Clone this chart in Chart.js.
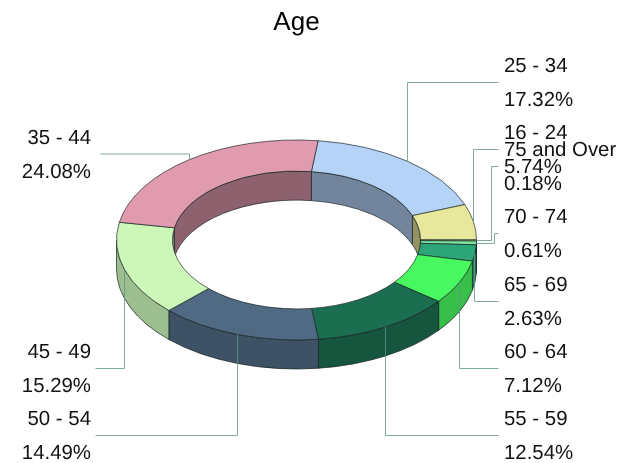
<!DOCTYPE html>
<html>
<head>
<meta charset="utf-8">
<style>html,body{margin:0;padding:0;background:#fff}#wrap{width:620px;height:463px}canvas{display:block}</style>
<script src="https://cdn.jsdelivr.net/npm/chart.js@4"></script>
</head>
<body>
<div id="wrap"><canvas id="c" width="620" height="463"></canvas></div>
<script>
const title = 'Age';
const categories = ['25 - 34','16 - 24','75 and Over','70 - 74','65 - 69','60 - 64','55 - 59','50 - 54','45 - 49','35 - 44'];
const percents = [17.32,5.74,0.18,0.61,2.63,7.12,12.54,14.49,15.29,24.08];
const sliceColors = ['#B5D3F7','#E8E89C','#B4F0A0','#7FE0A0','#2CA678','#48F860','#1C6E50','#4F6A82','#CCF7B8','#E09CAE'];

// Layout of the pseudo-3D ring and its callouts (not data)
const rotationDeg = 6.9, outerR = 180, innerR = 124;
const centerY = 240, squash = 100 / 180, depth = 29;
const outerShade = 0.77, innerShade = 0.63;
const labelFont = '20.4px "Liberation Sans", Arial, sans-serif';
const lineColor = 'rgba(96,150,132,0.8)';
const callouts = [
  {side:'r', y:82.5, textY:82},
  {side:'r', y:149.5, textY:149},
  {side:'r', y:166.5, textY:166, elbowX:491},
  {side:'r', y:233.5, textY:233, elbowX:494},
  {side:'r', y:301.5, textY:301},
  {side:'r', y:368.5, textY:368},
  {side:'r', y:435.5, textY:435},
  {side:'l', y:435.5, textY:435},
  {side:'l', y:368.5, textY:368},
  {side:'l', y:154, textY:154, endX:100}
];
const rightLineEnd = 498, rightTextX = 504, leftLineEnd = 95, leftTextX = 91, lineGap = 17, textShift = 1;

function shade(hex, f){
  const n = parseInt(hex.slice(1),16);
  const c = [n>>16&255, n>>8&255, n&255].map(v=>Math.round(v*f));
  return `rgb(${c[0]},${c[1]},${c[2]})`;
}
function arcs(chart){
  return chart.getDatasetMeta(0).data.map(a=>a.getProps(['x','y','startAngle','endAngle','innerRadius','outerRadius'],true));
}
function wall(ctx,x,y,r,a0,a1,fill){
  ctx.beginPath();
  ctx.ellipse(x,y,r,r*squash,0,a0,a1,false);
  ctx.ellipse(x,y+depth,r,r*squash,0,a1,a0,true);
  ctx.closePath();
  ctx.fillStyle=fill; ctx.fill();
  ctx.strokeStyle='rgba(20,30,30,0.85)'; ctx.lineWidth=0.8; ctx.stroke();
}
function clipRange(s,e,lo,hi,cb){
  for(const k of [-2,-1,0,1,2]){
    const a=Math.max(s,lo+k*2*Math.PI), b=Math.min(e,hi+k*2*Math.PI);
    if(b>a) cb(a,b);
  }
}
const ring3d = {
  id:'ring3d',
  beforeDraw(chart){
    chart.ctx.textRendering='geometricPrecision';
  },
  beforeDatasetsDraw(chart){
    const ctx=chart.ctx, list=arcs(chart);
    list.forEach((a,i)=>clipRange(a.startAngle,a.endAngle,Math.PI,2*Math.PI,(s,e)=>
      wall(ctx,a.x,centerY,a.innerRadius,s,e,shade(sliceColors[i],innerShade))));
    list.forEach((a,i)=>clipRange(a.startAngle,a.endAngle,0,Math.PI,(s,e)=>
      wall(ctx,a.x,centerY,a.outerRadius,s,e,shade(sliceColors[i],outerShade))));
    const a0=list[0];
    ctx.save();
    ctx.translate(a0.x,centerY); ctx.scale(1,squash); ctx.translate(-a0.x,-a0.y);
  },
  afterDatasetsDraw(chart){
    const ctx=chart.ctx, list=arcs(chart);
    ctx.restore();
    ctx.save();
    ctx.lineWidth=1; ctx.strokeStyle=lineColor;
    list.forEach((a,i)=>{
      const c=callouts[i], m=(a.startAngle+a.endAngle)/2;
      const px=a.x+a.outerRadius*Math.cos(m), py=centerY+a.outerRadius*squash*Math.sin(m);
      const end=c.endX!==undefined?c.endX:(c.side==='r'?rightLineEnd:leftLineEnd);
      ctx.beginPath();
      const ax=Math.floor(px)+0.5, ly=c.y;
      ctx.moveTo(ax,py);
      if(c.elbowX!==undefined){
        ctx.lineTo(ax,Math.round(py)+0.5);
        ctx.lineTo(c.elbowX+0.5,Math.round(py)+0.5);
        ctx.lineTo(c.elbowX+0.5,ly);
      } else {
        ctx.lineTo(ax,ly);
      }
      ctx.lineTo(end+0.5,ly);
      ctx.stroke();
    });
    ctx.font=labelFont; ctx.fillStyle='#111'; ctx.textBaseline='middle';
    list.forEach((a,i)=>{
      const c=callouts[i], x=c.side==='r'?rightTextX:leftTextX;
      ctx.textAlign=c.side==='r'?'left':'right';
      ctx.fillText(categories[i],x,c.textY-lineGap+textShift);
      ctx.fillText(percents[i].toFixed(2)+'%',x,c.textY+lineGap+textShift);
    });
    ctx.restore();
  }
};

new Chart(document.getElementById('c'),{
  type:'doughnut',
  data:{labels:categories,datasets:[{
    data:percents,
    backgroundColor:sliceColors,
    borderColor:'rgba(20,30,30,0.85)',
    borderWidth:1,
    clip:false
  }]},
  options:{
    responsive:false,
    animation:false,
    rotation:rotationDeg,
    radius:outerR,
    cutout:(innerR/outerR*100)+'%',
    layout:{padding:{right:27,bottom:19}},
    plugins:{
      legend:{display:false},
      tooltip:{enabled:false},
      title:{display:true,text:title,color:'#000',font:{family:'"Liberation Sans", Arial, sans-serif',size:26,weight:'normal'},padding:{top:7,bottom:0}}
    }
  },
  plugins:[ring3d]
});
</script>
</body>
</html>
